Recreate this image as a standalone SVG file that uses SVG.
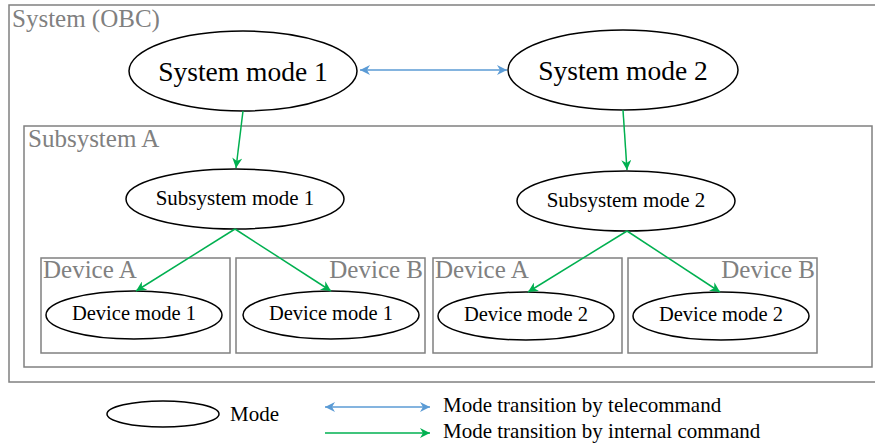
<svg xmlns="http://www.w3.org/2000/svg" width="875" height="445" viewBox="0 0 875 445">
  <style>
    .box { fill: none; stroke: #808080; stroke-width: 1.5; }
    .lbl { font-family: "Liberation Serif", "Times New Roman", serif; fill: #808080; font-size: 25px; }
    .mode { fill: #fff; stroke: #000; stroke-width: 1.5; }
    .t { font-family: "Liberation Serif", "Times New Roman", serif; fill: #000; text-anchor: middle; }
    .tc { stroke: #5b9bd5; stroke-width: 1.5; fill: none; }
    .ic { stroke: #00b050; stroke-width: 1.5; fill: none; }
    .leg { font-family: "Liberation Serif", "Times New Roman", serif; fill: #000; font-size: 21px; }
  </style>
  <defs>
    <marker id="ahBlue" viewBox="0 0 10 10" refX="10" refY="5" markerWidth="11" markerHeight="10" markerUnits="userSpaceOnUse" orient="auto-start-reverse">
      <path d="M0,0 L10,5 L0,10 L3,5 Z" fill="#5b9bd5"/>
    </marker>
    <marker id="ahGreen" viewBox="0 0 10 10" refX="10" refY="5" markerWidth="11" markerHeight="10" markerUnits="userSpaceOnUse" orient="auto">
      <path d="M0,0 L10,5 L0,10 L3,5 Z" fill="#00b050"/>
    </marker>
  </defs>

  <!-- containers -->
  <g id="system-obc">
    <rect class="box" x="9" y="5" width="870" height="377"/>
    <text class="lbl" x="12" y="27">System (OBC)</text>
  </g>
  <g id="subsystem-a">
    <rect class="box" x="24" y="126" width="848" height="241"/>
    <text class="lbl" x="28" y="147">Subsystem A</text>
  </g>
  <g id="device-a1">
    <rect class="box" x="41" y="258" width="189" height="95"/>
    <text class="lbl" x="43" y="278">Device A</text>
  </g>
  <g id="device-b1">
    <rect class="box" x="236" y="258" width="189" height="95"/>
    <text class="lbl" x="423" y="278" text-anchor="end">Device B</text>
  </g>
  <g id="device-a2">
    <rect class="box" x="433" y="258" width="189" height="95"/>
    <text class="lbl" x="435" y="278">Device A</text>
  </g>
  <g id="device-b2">
    <rect class="box" x="628" y="258" width="189" height="95"/>
    <text class="lbl" x="815" y="278" text-anchor="end">Device B</text>
  </g>

  <!-- mode nodes -->
  <g id="system-mode-1">
    <ellipse class="mode" cx="243" cy="71" rx="114" ry="40"/>
    <text class="t" x="243" y="81" font-size="27.5">System mode 1</text>
  </g>
  <g id="system-mode-2">
    <ellipse class="mode" cx="623" cy="70" rx="115" ry="40"/>
    <text class="t" x="623" y="80" font-size="27.5">System mode 2</text>
  </g>
  <g id="subsystem-mode-1">
    <ellipse class="mode" cx="235" cy="199" rx="109" ry="30"/>
    <text class="t" x="235" y="205" font-size="21">Subsystem mode 1</text>
  </g>
  <g id="subsystem-mode-2">
    <ellipse class="mode" cx="626" cy="201" rx="109" ry="30"/>
    <text class="t" x="626" y="207" font-size="21">Subsystem mode 2</text>
  </g>
  <g id="device-mode-1a">
    <ellipse class="mode" cx="134" cy="315" rx="88" ry="24"/>
    <text class="t" x="134" y="319.5" font-size="20.5">Device mode 1</text>
  </g>
  <g id="device-mode-1b">
    <ellipse class="mode" cx="331" cy="315" rx="88" ry="24"/>
    <text class="t" x="331" y="319.5" font-size="20.5">Device mode 1</text>
  </g>
  <g id="device-mode-2a">
    <ellipse class="mode" cx="526" cy="316" rx="88" ry="24"/>
    <text class="t" x="526" y="320.5" font-size="20.5">Device mode 2</text>
  </g>
  <g id="device-mode-2b">
    <ellipse class="mode" cx="721" cy="316" rx="88" ry="24"/>
    <text class="t" x="721" y="320.5" font-size="20.5">Device mode 2</text>
  </g>

  <!-- transitions -->
  <g id="connectors">
    <line class="tc" x1="360" y1="70" x2="507" y2="70" marker-start="url(#ahBlue)" marker-end="url(#ahBlue)"/>
    <line class="ic" x1="243" y1="111" x2="236" y2="168" marker-end="url(#ahGreen)"/>
    <line class="ic" x1="623" y1="110" x2="627" y2="170" marker-end="url(#ahGreen)"/>
    <line class="ic" x1="235" y1="229" x2="136" y2="291" marker-end="url(#ahGreen)"/>
    <line class="ic" x1="235" y1="229" x2="331" y2="291" marker-end="url(#ahGreen)"/>
    <line class="ic" x1="627" y1="231" x2="528" y2="292" marker-end="url(#ahGreen)"/>
    <line class="ic" x1="627" y1="231" x2="720" y2="292" marker-end="url(#ahGreen)"/>
  </g>

  <!-- legend -->
  <g id="legend">
    <ellipse class="mode" cx="163" cy="414" rx="56" ry="13"/>
    <text class="leg" x="230" y="421">Mode</text>
    <line class="tc" x1="325" y1="407" x2="430" y2="407" marker-start="url(#ahBlue)" marker-end="url(#ahBlue)"/>
    <text class="leg" x="443" y="412">Mode transition by telecommand</text>
    <line class="ic" x1="325" y1="433" x2="430" y2="433" marker-end="url(#ahGreen)"/>
    <text class="leg" x="443" y="438">Mode transition by internal command</text>
  </g>
</svg>
